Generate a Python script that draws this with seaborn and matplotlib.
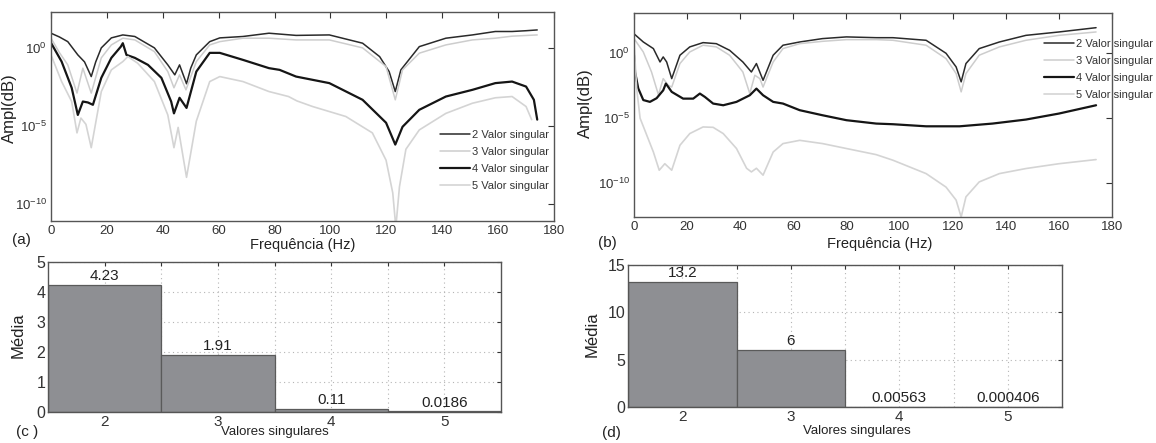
import numpy as np
import pandas as pd
import matplotlib
matplotlib.use("Agg")
import matplotlib.pyplot as plt
import seaborn as sns
from matplotlib.ticker import FixedLocator, NullLocator, FixedFormatter

# ---------------- data (log10 of amplitude) ----------------
a_s2_f = [0, 3, 6, 9.6, 12, 14.4, 16, 18, 21.6, 25.7, 30, 37, 41.8, 44.3, 46, 48.5, 50, 52, 56.8, 60.4,
          68.7, 78, 87.7, 99.6, 111.5, 117.6, 121, 123.2, 125.2, 131.8, 141.3, 150.8, 159, 165, 170, 174]
a_s2_v = [0.94, 0.7, 0.4, -0.45, -0.9, -1.84, -0.9, 0, 0.64, 0.83, 0.73, 0, -1.09, -1.73, -1.09, -2.3, -1.3,
          -0.45, 0.4, 0.64, 0.73, 0.94, 0.8, 0.83, 0.3, -0.56, -1.52, -2.8, -1.41, 0.08, 0.62, 0.83, 1.05,
          1.05, 1.1, 1.15]

a_s3_f = [0, 3, 6, 9.3, 11.4, 14.4, 18, 21.6, 25.7, 30, 37, 41.8, 44, 46, 48.3, 52, 56.8, 60.4, 68.7, 78,
          87.7, 99.6, 111.5, 119.9, 123.2, 125.8, 131.8, 141.3, 150.8, 159, 165, 174]
a_s3_v = [0.62, -0.3, -1.09, -2.9, -1.3, -2.9, -0.64, 0.19, 0.62, 0.51, -0.24, -1.52, -2.56, -1.73, -2.69,
          -0.88, 0.19, 0.4, 0.62, 0.62, 0.51, 0.51, 0.0, -1.2, -3.33, -1.41, -0.34, 0.19, 0.51, 0.62, 0.75, 0.83]

a_s4_f = [0, 3.8, 7.4, 9.6, 11.4, 13.2, 15, 18, 21.6, 25, 25.7, 27, 30, 34.7, 39.5, 43, 44, 46, 48.5, 52,
          56.8, 60.4, 68.7, 78, 81.8, 87.7, 99.6, 111.5, 119.9, 123.2, 125.8, 131.8, 141.3, 150.8, 159, 165,
          170, 172.8, 174]
a_s4_v = [0.32, -0.88, -2.56, -4.3, -3.44, -3.5, -3.65, -1.92, -0.64, 0.08, 0.3, -0.45, -0.64, -1.09, -1.92,
          -3.44, -4.2, -3.2, -3.85, -1.52, -0.32, -0.32, -0.77, -1.3, -1.41, -1.84, -2.26, -3.33, -4.8, -6.2,
          -5.06, -3.97, -3.12, -2.69, -2.26, -2.16, -2.48, -3.33, -4.6]

a_s5_f = [0, 3.8, 7.4, 9.3, 10.7, 12.5, 14.4, 18, 21.6, 25.7, 27.5, 31, 37, 41.8, 44, 45.5, 48.5, 52, 56.8,
          60.4, 68.7, 78, 85, 88, 93.6, 105.5, 115, 119.9, 122.3, 123.4, 124.7, 127, 131.8, 141.3, 150.8,
          159, 165, 170, 172]
a_s5_v = [-0.45, -2.16, -3.44, -5.45, -4.5, -4.9, -6.4, -2.8, -1.41, -0.88, -0.56, -0.98, -2.16, -4.3, -6.4,
          -5.1, -8.3, -4.7, -2.16, -1.84, -2.16, -2.8, -3.12, -3.4, -3.76, -4.4, -5.45, -7.2, -9.3, -11.5,
          -8.9, -6.5, -5.26, -4.2, -3.55, -3.2, -3.12, -3.76, -4.6]

b_s2_f = [0, 3.5, 7.3, 9.8, 11, 12.3, 14.2, 17.3, 21, 26, 31, 36, 41, 44.2, 46.1, 48.6, 52.4, 56.1, 62.4,
          71, 80, 91.2, 97.5, 110, 117.5, 121.3, 123.2, 125, 130, 137.6, 147.6, 160, 174]
b_s2_v = [1.5, 0.87, 0.36, -0.67, -0.28, -0.67, -1.95, -0.15, 0.49, 0.82, 0.74, 0.23, -0.67, -1.44, -0.79,
          -2.08, -0.15, 0.62, 0.87, 1.13, 1.26, 1.2, 1.2, 1.0, 0, -1.05, -2.2, -0.79, 0.36, 0.87, 1.38, 1.64, 1.97]

b_s3_f = [0, 3.5, 6.6, 9.2, 11, 12.9, 14.2, 17.3, 21, 26, 31, 36, 41, 43.6, 45.5, 47.4, 48.6, 52.4, 56.1,
          62.4, 71, 80, 91.2, 97.5, 110, 117.5, 121.3, 123.2, 125, 130, 137.6, 147.6, 160, 174]
b_s3_v = [1.13, 0.1, -1.44, -3.2, -1.95, -2.46, -2.6, -0.79, 0.1, 0.62, 0.49, -0.15, -1.44, -3.1, -1.69,
          -1.95, -2.6, -0.67, 0.36, 0.74, 0.92, 1.05, 1.05, 1.0, 0.62, -0.41, -1.56, -2.97, -1.56, -0.15,
          0.49, 1.0, 1.38, 1.64]

b_s4_f = [0, 0.4, 1.6, 3.5, 6, 8.5, 11, 12, 14.2, 18.5, 22.3, 24.8, 26.7, 29.8, 33.6, 38.6, 43.6, 46.1,
          48.6, 52.4, 56.1, 62.4, 71, 80, 91.2, 97.5, 110, 122.6, 135, 147.6, 160, 174]
b_s4_v = [-0.15, -1.44, -2.7, -3.6, -3.74, -3.46, -2.85, -2.33, -2.97, -3.49, -3.49, -3.1, -3.36, -3.87,
          -4.0, -3.74, -3.23, -2.72, -3.23, -3.74, -3.87, -4.38, -4.77, -5.15, -5.41, -5.46, -5.62, -5.62,
          -5.41, -5.1, -4.64, -4.0]

b_s5_f = [0, 1, 2.3, 4.8, 7.3, 9.5, 11.6, 14.2, 17.3, 21, 26, 29.8, 33.6, 38.6, 42.4, 44.2, 46.1, 48.6,
          52.4, 56.1, 62.4, 71, 80, 91.2, 97.5, 110, 117.5, 121.3, 123.2, 125, 130, 137.6, 147.6, 160, 174]
b_s5_v = [0.87, -2.7, -5.0, -6.3, -7.6, -9.0, -8.5, -9.0, -7.08, -6.18, -5.67, -5.7, -6.18, -7.33, -8.85,
          -9.13, -8.85, -9.38, -7.6, -6.95, -6.7, -6.95, -7.33, -7.8, -8.23, -9.26, -10.3, -11.3, -12.6,
          -11.05, -9.9, -9.26, -8.87, -8.5, -8.18]

series_labels = ["2 Valor singular", "3 Valor singular", "4 Valor singular", "5 Valor singular"]

bar_cats = ["2", "3", "4", "5"]
c_vals = [4.23, 1.91, 0.11, 0.0186]
c_text = ["4.23", "1.91", "0.11", "0.0186"]
d_vals = [13.2, 6, 0.00563, 0.000406]
d_text = ["13.2", "6", "0.00563", "0.000406"]

# ---------------- styling ----------------
sns.set_theme(style="white")
plt.rcParams["font.family"] = ["Liberation Sans", "DejaVu Sans"]
plt.rcParams["mathtext.default"] = "regular"
plt.rcParams["axes.edgecolor"] = "#555555"
plt.rcParams["axes.linewidth"] = 1.0

line_styles = [
    dict(color="#2a2a2a", lw=1.1),
    dict(color="#cdcdcd", lw=1.1),
    dict(color="#151515", lw=1.6),
    dict(color="#d4d4d4", lw=1.2),
]

fig = plt.figure(figsize=(11.56, 4.43), dpi=100)
W, H = 1156, 443


def rect(l, t, r, b):
    return [l / W, 1 - b / H, (r - l) / W, (b - t) / H]


ax_a = fig.add_axes(rect(51, 12, 554, 221))
ax_b = fig.add_axes(rect(634, 13, 1112, 217))
ax_c = fig.add_axes(rect(48, 262, 501, 412))
ax_d = fig.add_axes(rect(628, 265, 1062, 407))

label_col = "#222222"


def spectrum(ax, data, ylim, legend_xy):
    for (f, v), lab, st in zip(data, series_labels, line_styles):
        df = pd.DataFrame({"f": f, "amp": np.power(10.0, np.array(v))})
        sns.lineplot(data=df, x="f", y="amp", ax=ax, label=lab, sort=False, **st)
    ax.set_yscale("log")
    ax.set_xlim(0, 180)
    ax.set_ylim(10 ** ylim[0], 10 ** ylim[1])
    ax.xaxis.set_major_locator(FixedLocator(list(range(0, 181, 20))))
    ax.yaxis.set_major_locator(FixedLocator([1e-10, 1e-5, 1e0]))
    ax.yaxis.set_major_formatter(FixedFormatter(["$10^{-10}$", "$10^{-5}$", "$10^{0}$"]))
    ax.yaxis.set_minor_locator(NullLocator())
    ax.tick_params(direction="in", top=True, right=True, length=4, width=0.8,
                   labelsize=9.5, colors="#333333", pad=3)
    ax.set_xlabel("Frequência (Hz)", fontsize=10.5, color=label_col)
    ax.set_ylabel("Ampl(dB)", fontsize=12, color=label_col)
    leg = ax.legend(loc="upper left", bbox_to_anchor=legend_xy, bbox_transform=fig.transFigure,
                    frameon=False, fontsize=8, handlelength=2.7, handletextpad=0.15,
                    labelspacing=0.62, borderpad=0, borderaxespad=0)
    for t in leg.get_texts():
        t.set_color("#333333")


spectrum(ax_a, [(a_s2_f, a_s2_v), (a_s3_f, a_s3_v), (a_s4_f, a_s4_v), (a_s5_f, a_s5_v)],
         (-11.1, 2.3), (440 / W, 1 - 130 / H))
spectrum(ax_b, [(b_s2_f, b_s2_v), (b_s3_f, b_s3_v), (b_s4_f, b_s4_v), (b_s5_f, b_s5_v)],
         (-12.6, 3.1), (1044 / W, 1 - 39 / H))

ax_a.xaxis.set_label_coords(0.5, -0.08)
ax_a.yaxis.set_label_coords(-0.068, 0.54)
ax_b.xaxis.set_label_coords(0.515, -0.10)
ax_b.yaxis.set_label_coords(-0.085, 0.56)


def bars(ax, vals, texts, ymax, yticks):
    df = pd.DataFrame({"cat": bar_cats, "val": vals})
    sns.barplot(data=df, x="cat", y="val", ax=ax, color="#8e8f93", saturation=1, width=1.0,
                edgecolor="#5a5a5a", linewidth=0.9, zorder=2)
    ax.set_xlim(-0.5, 3.5)
    ax.set_ylim(0, ymax)
    ax.set_yticks(yticks)
    ax.set_xticks([0.5, 1.5, 2.5], minor=True)
    ax.set_axisbelow(True)
    ax.grid(True, which="both", linestyle=(0, (1, 3)), color="#b5b5b5", lw=0.8)
    ax.tick_params(which="both", direction="in", top=True, right=True, length=3, width=0.8,
                   labelsize=11, colors="#333333", pad=2)
    ax.tick_params(axis="y", labelsize=11.5)
    for i, (v, t) in enumerate(zip(vals, texts)):
        ax.text(i, v + ymax * 0.012, t, ha="center", va="bottom", fontsize=11, color=label_col)
    ax.set_xlabel("Valores singulares", fontsize=9.5, color=label_col)
    ax.set_ylabel("Média", fontsize=12, color=label_col)


bars(ax_c, c_vals, c_text, 5, [0, 1, 2, 3, 4, 5])
bars(ax_d, d_vals, d_text, 15, [0, 5, 10, 15])
ax_c.xaxis.set_label_coords(0.5, -0.09)
ax_c.yaxis.set_label_coords(-0.05, 0.51)
ax_d.xaxis.set_label_coords(0.528, -0.125)
ax_d.yaxis.set_label_coords(-0.066, 0.51)

panel_font = dict(fontsize=11, color=label_col, va="center")
fig.text(12 / W, 1 - 240 / H, "(a)", **panel_font)
fig.text(598 / W, 1 - 243 / H, "(b)", **panel_font)
fig.text(16 / W, 1 - 432 / H, "(c )", **panel_font)
fig.text(602 / W, 1 - 433 / H, "(d)", **panel_font)

fig.savefig("out.png", dpi=100)
